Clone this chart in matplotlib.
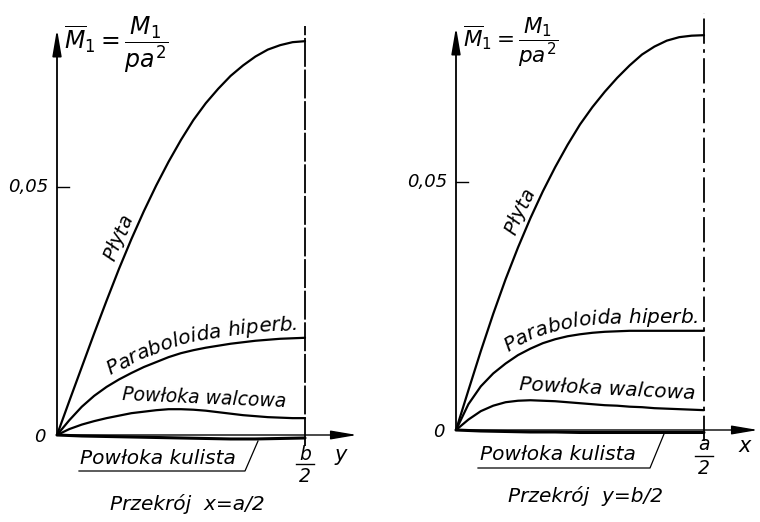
import numpy as np
import matplotlib
matplotlib.use("Agg")
import matplotlib.pyplot as plt
from matplotlib.font_manager import FontProperties, findfont, get_font

# ---------------- data ----------------
xs21 = [0.00, 0.05, 0.10, 0.15, 0.20, 0.25, 0.30, 0.35, 0.40, 0.45, 0.50,
        0.55, 0.60, 0.65, 0.70, 0.75, 0.80, 0.85, 0.90, 0.95, 1.00]
xs11 = [0.0, 0.1, 0.2, 0.3, 0.4, 0.5, 0.6, 0.7, 0.8, 0.9, 1.0]

# Section x = a/2 (left)
plyta_L = [0, 0.0069, 0.0137, 0.0205, 0.0271, 0.0335, 0.0395, 0.0451, 0.0503, 0.0551, 0.0595,
           0.0635, 0.0669, 0.0698, 0.0724, 0.0745, 0.0763, 0.0777, 0.0786, 0.0792, 0.0794]
parab_L = [0, 0.0030, 0.0057, 0.0079, 0.0097, 0.0112, 0.0125, 0.0137, 0.0147, 0.0157, 0.0165,
           0.0171, 0.0176, 0.0180, 0.0184, 0.0187, 0.0190, 0.0192, 0.0194, 0.0195, 0.0196]
walc_L = [0, 0.0012, 0.0021, 0.0028, 0.0034, 0.0039, 0.0044, 0.0047, 0.0050, 0.0052, 0.0052,
          0.0051, 0.0049, 0.0046, 0.0043, 0.0040, 0.0038, 0.0036, 0.0035, 0.0034, 0.0034]
kul_L = [0, -0.0002, -0.0003, -0.0004, -0.0005, -0.0006, -0.0007, -0.0008, -0.0008, -0.0007, -0.0006]

# Section y = b/2 (right)
plyta_R = [0, 0.0080, 0.0159, 0.0234, 0.0304, 0.0368, 0.0427, 0.0481, 0.0530, 0.0575, 0.0616,
           0.0651, 0.0682, 0.0710, 0.0735, 0.0757, 0.0773, 0.0785, 0.0792, 0.0795, 0.0796]
parab_R = [0, 0.0052, 0.0088, 0.0114, 0.0134, 0.0151, 0.0164, 0.0175, 0.0183, 0.0189, 0.0193,
           0.0196, 0.0198, 0.0199, 0.0200, 0.0200, 0.0200, 0.0200, 0.0200, 0.0200, 0.0200]
walc_R = [0, 0.0021, 0.0038, 0.0049, 0.0056, 0.0059, 0.0060, 0.0059, 0.0058, 0.0056, 0.0054,
          0.0052, 0.0050, 0.0049, 0.0047, 0.0046, 0.0044, 0.0043, 0.0042, 0.0041, 0.0040]
kul_R = [0, -0.0002, -0.0003, -0.0004, -0.0004, -0.0005, -0.0005, -0.0005, -0.0005, -0.0005, -0.0005]

tick_val = 0.05
tick_label = "0,05"
ylabel = r"$\overline{M}_1 = \dfrac{M_1}{pa^2}$"
lab_plyta = "Płyta"
lab_parab = "Paraboloida hiperb."
lab_walc = "Powłoka walcowa"
lab_kul = "Powłoka kulista"
titles = ["Przekrój  x=a/2", "Przekrój  y=b/2"]
axis_names = ["y", "x"]
end_num = ["b", "a"]

# ---------------- figure ----------------
W, H = 760, 522
fig = plt.figure(figsize=(W / 100, H / 100), dpi=100)
plt.rcParams["mathtext.fontset"] = "dejavusans"
FAM = "DejaVu Sans"
FS = 13.5


def make_axes(px0, px1, ox, oy, scale=248.0, unit=0.05):
    ax = fig.add_axes([px0 / W, 0, (px1 - px0) / W, 1])
    ax.set_xlim((px0 - ox) / scale, (px1 - ox) / scale)
    ax.set_ylim((oy - H) * unit / scale, oy * unit / scale)
    ax.axis("off")
    return ax


def text_along(ax, xs, ys, s, start, offset, size=FS):
    prop = FontProperties(family=FAM, style="italic", size=size)
    font = get_font(findfont(prop))
    font.set_size(size, fig.dpi)
    adv = []
    for ch in s:
        g = font.load_char(ord(ch))
        adv.append(g.linearHoriAdvance / 65536.0)
    pts = ax.transData.transform(np.column_stack([xs, ys]))
    d = np.hypot(*np.diff(pts, axis=0).T)
    cum = np.r_[0, np.cumsum(d)]
    fine = np.linspace(0, cum[-1], 600)
    P = np.column_stack([np.interp(fine, cum, pts[:, 0]), np.interp(fine, cum, pts[:, 1])])
    T = np.gradient(P, axis=0)
    T /= np.hypot(T[:, 0], T[:, 1])[:, None]
    N = np.column_stack([-T[:, 1], T[:, 0]])
    B = P + N * offset
    cb = np.r_[0, np.cumsum(np.hypot(*np.diff(B, axis=0).T))]
    inv = ax.transData.inverted()
    pos = start
    for ch, a in zip(s, adv):
        if ch != " ":
            x = np.interp(pos, cb, B[:, 0])
            y = np.interp(pos, cb, B[:, 1])
            m0, m1 = pos, pos + a
            dx = np.interp(m1, cb, B[:, 0]) - np.interp(m0, cb, B[:, 0])
            dy = np.interp(m1, cb, B[:, 1]) - np.interp(m0, cb, B[:, 1])
            ang = np.degrees(np.arctan2(dy, dx))
            xd, yd = inv.transform((x, y))
            ax.text(xd, yd, ch, fontproperties=prop, rotation=ang,
                    rotation_mode="anchor", ha="left", va="baseline")
        pos += a


def px(ax, x, y):
    """pixel (from top-left) -> data coords of ax"""
    return ax.transData.inverted().transform((x, H - y))


def panel(ax, plyta, parab, walc, kul, side):
    kw = dict(color="black", solid_capstyle="round")
    # axes with arrows
    ytop = px(ax, 0, 29 if side == 0 else 27)[1]
    ax.annotate("", xy=(0, ytop), xytext=(0, 0),
                arrowprops=dict(arrowstyle="-|>,head_length=1.0,head_width=0.17",
                                lw=1.3, color="black", mutation_scale=16,
                                shrinkA=0, shrinkB=0))
    xend = px(ax, 357 if side == 0 else 758, 0)[0]
    ax.annotate("", xy=(xend, 0), xytext=(0, 0),
                arrowprops=dict(arrowstyle="-|>,head_length=1.0,head_width=0.17",
                                lw=1.0, color="black", mutation_scale=16,
                                shrinkA=0, shrinkB=0))
    # end-of-span dashed line
    top = px(ax, 0, 26 if side == 0 else 13)[1]
    dashes = (16, 1.5) if side == 0 else (14, 3, 2, 3)
    ax.plot([1, 1], [-0.0022, top], color="black", lw=1.3, dashes=dashes)
    # tick 0,05
    ax.plot([0, 0.05], [tick_val, tick_val], color="black", lw=1.0)
    ax.text(-0.035, tick_val, tick_label, fontsize=13, style="italic",
            family=FAM, ha="right", va="center")
    ax.text(-0.045, -0.0004, "0", fontsize=13, style="italic", family=FAM,
            ha="right", va="center")
    # curves
    ax.plot(xs21, plyta, lw=1.6, **kw)
    ax.plot(xs21, parab, lw=1.6, **kw)
    ax.plot(xs21, walc, lw=1.6, **kw)
    ax.plot(xs11, kul, lw=2.2, **kw)
    # y label
    ax.text(0.03, px(ax, 0, 45 if side == 0 else 42)[1], ylabel,
            fontsize=17 if side == 0 else 15.5, ha="left", va="center")
    # end labels
    if side == 0:
        yb, ybar, y2, yx, xx = 455, 464, 476, 455, 341
    else:
        yb, ybar, y2, yx, xx = 445, 456, 468, 446, 745
    ax.text(1.0, px(ax, 0, yb)[1], end_num[side], fontsize=13.5, style="italic",
            family=FAM, ha="center", va="center")
    ax.text(1.0, px(ax, 0, y2)[1], "2", fontsize=13.5, style="italic", family=FAM,
            ha="center", va="center")
    yy = px(ax, 0, ybar)[1]
    ax.plot([0.965, 1.035], [yy, yy], color="black", lw=1.0)
    p = px(ax, xx, yx)
    ax.text(p[0], p[1], axis_names[side], fontsize=15, style="italic",
            family=FAM, ha="center", va="center")
    # kulista label with leader
    if side == 0:
        tx, ty, ux0, ux1, lx, ly = 80, 458, 79, 245, 258, 441
    else:
        tx, ty, ux0, ux1, lx, ly = 480, 455, 478, 650, 664, 434
    p = px(ax, tx, ty)
    ax.text(p[0], p[1], lab_kul, fontsize=14.5, style="italic", family=FAM,
            ha="left", va="center")
    a0 = px(ax, ux0, ty + 13)
    a1 = px(ax, ux1, ty + 13)
    a2 = px(ax, lx, ly)
    ax.plot([a0[0], a1[0], a2[0]], [a0[1], a1[1], a2[1]], color="black", lw=0.9)
    # walcowa label
    if side == 0:
        c, rot, fs = (204, 398), -2.5, 13.5
    else:
        c, rot, fs = (607, 389), -3.0, 14.5
    p = px(ax, *c)
    ax.text(p[0], p[1], lab_walc, fontsize=fs, style="italic", family=FAM,
            ha="center", va="center", rotation=rot, rotation_mode="anchor")
    # title
    c = (187, 504) if side == 0 else (586, 496)
    p = px(ax, *c)
    ax.text(p[0], p[1], titles[side], fontsize=14.5, style="italic", family=FAM,
            ha="center", va="center")
    # curved labels
    text_along(ax, xs21, plyta, lab_plyta, 182 if side == 0 else 203, 7, size=14)
    text_along(ax, xs21, parab, lab_parab, 81 if side == 0 else 97, 8, size=14.5)


axL = make_axes(0, 380, 57, 435)
axR = make_axes(380, 760, 456, 430)
panel(axL, plyta_L, parab_L, walc_L, kul_L, 0)
panel(axR, plyta_R, parab_R, walc_R, kul_R, 1)

fig.savefig("out.png", dpi=100, facecolor="white")
